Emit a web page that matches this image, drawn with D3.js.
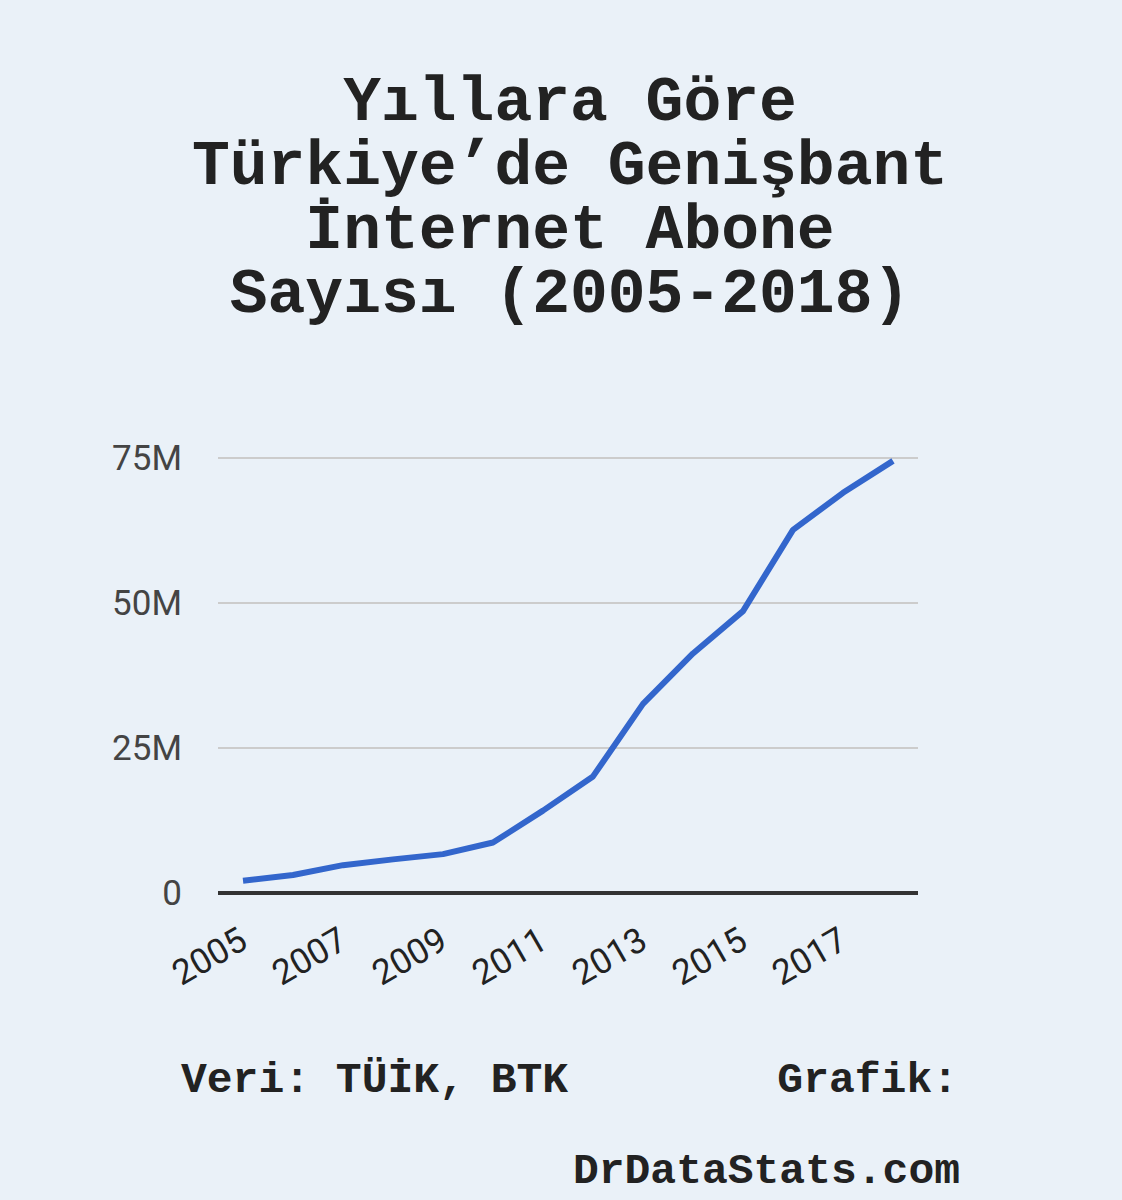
<!DOCTYPE html>
<html>
<head>
<meta charset="utf-8">
<script src="https://cdn.jsdelivr.net/npm/d3@7"></script>
<style>
  html, body { margin: 0; padding: 0; background: #eaf1f8; }
  svg { display: block; }
</style>
</head>
<body>
<svg id="chart" width="1122" height="1200"></svg>
<script>
const titleLines = ["Yıllara Göre", "Türkiye’de Genişbant", "İnternet Abone", "Sayısı (2005-2018)"];
const years = [2005, 2006, 2007, 2008, 2009, 2010, 2011, 2012, 2013, 2014, 2015, 2016, 2017, 2018];
const subscribersM = [2.1, 3.1, 4.8, 5.8, 6.7, 8.7, 14.2, 20.1, 32.6, 41.3, 48.6, 62.6, 69.0, 74.5];
const yTicks = [0, 25, 50, 75];
const yTickLabels = ["0", "25M", "50M", "75M"];
const xTickYears = [2005, 2007, 2009, 2011, 2013, 2015, 2017];
const sourceText = "Veri: TÜİK, BTK";
const creditLabel = "Grafik:";
const creditSite = "DrDataStats.com";

(function () {
const svg = d3.select("#chart");
const W = 1122, H = 1200;
svg.append("rect").attr("width", W).attr("height", H).attr("fill", "#eaf1f8");

const mono = "'Liberation Mono', 'Courier New', monospace";
const sans = "Roboto, Arial, sans-serif";

// Title (one text element per line)
svg.append("g").selectAll("text").data(titleLines).join("text")
  .attr("x", 570).attr("y", (d, i) => 120 + i * 64)
  .attr("text-anchor", "middle")
  .attr("font-family", mono).attr("font-weight", "bold")
  .attr("font-size", 63).attr("fill", "#222")
  .text(d => d);

// Plot area
const pLeft = 218, pRight = 918, pTop = 458, pBottom = 893;
const x = d3.scalePoint().domain(years).range([pLeft, pRight]).padding(0.5);
const y = d3.scaleLinear().domain([0, 75]).range([pBottom, pTop]);

// Gridlines
svg.append("g").selectAll("line").data(yTicks.filter(d => d !== 0)).join("line")
  .attr("x1", pLeft).attr("x2", pRight)
  .attr("y1", d => y(d)).attr("y2", d => y(d))
  .attr("stroke", "#cccccc").attr("stroke-width", 2);

// Y axis labels
const yAxis = d3.axisLeft(y).tickValues(yTicks)
  .tickFormat((d, i) => yTickLabels[i]).tickSize(0).tickPadding(0);
const gy = svg.append("g").attr("transform", `translate(182,0)`).call(yAxis);
gy.select(".domain").remove();
gy.selectAll("text")
  .attr("font-family", sans).attr("font-size", 35).attr("fill", "#444");

// Line
const line = d3.line().x((d, i) => x(years[i])).y(d => y(d));
svg.append("path").datum(subscribersM)
  .attr("d", line)
  .attr("fill", "none").attr("stroke", "#3366cc")
  .attr("stroke-width", 6).attr("stroke-linejoin", "round");

// Baseline
svg.append("line")
  .attr("x1", pLeft).attr("x2", pRight)
  .attr("y1", y(0)).attr("y2", y(0))
  .attr("stroke", "#333").attr("stroke-width", 4);

// X axis labels
const xAxis = d3.axisBottom(x).tickValues(xTickYears).tickSize(0).tickPadding(0);
const gx = svg.append("g").attr("transform", `translate(0,${pBottom})`).call(xAxis);
gx.select(".domain").remove();
gx.selectAll("text")
  .attr("font-family", sans).attr("font-size", 35).attr("fill", "#222")
  .attr("text-anchor", "end")
  .attr("dy", null).attr("y", null)
  .attr("transform", "translate(6,54) rotate(-30)");

// Footer
const foot = { "font-family": mono, "font-weight": "bold", "font-size": 43, "fill": "#222" };
function applyAttrs(sel, o) { Object.entries(o).forEach(([k, v]) => sel.attr(k, v)); return sel; }
applyAttrs(svg.append("text").attr("x", 181).attr("y", 1092), foot).text(sourceText);
applyAttrs(svg.append("text").attr("x", 958).attr("y", 1092).attr("text-anchor", "end"), foot).text(creditLabel);
applyAttrs(svg.append("text").attr("x", 960).attr("y", 1183).attr("text-anchor", "end"), foot).text(creditSite);
})();
</script>
</body>
</html>
